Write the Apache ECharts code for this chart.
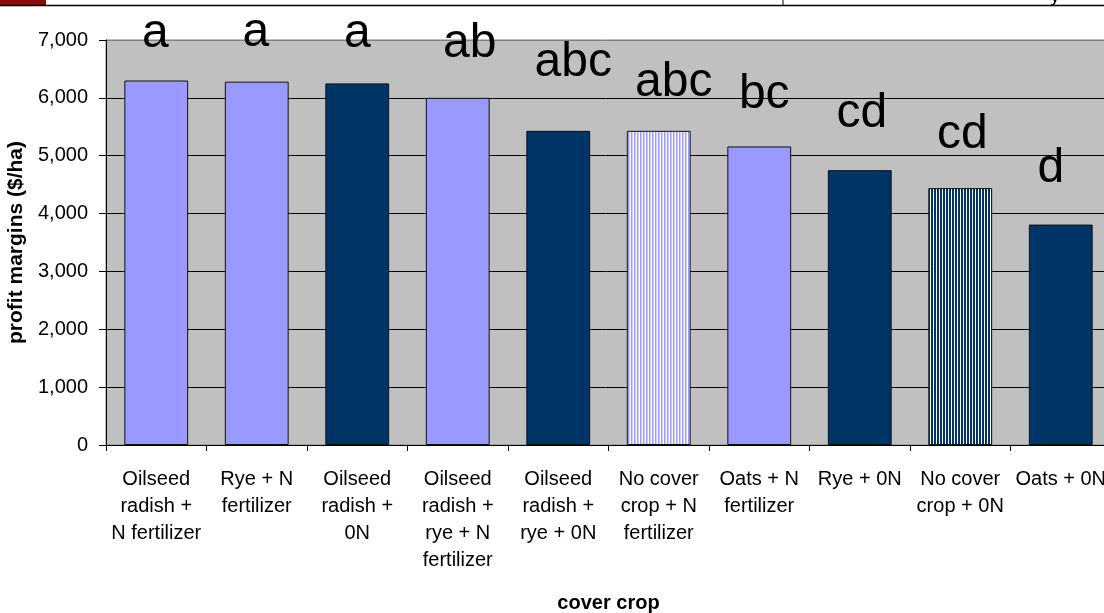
<!DOCTYPE html>
<html>
<head>
<meta charset="utf-8">
<script src="https://cdn.jsdelivr.net/npm/echarts@6/dist/echarts.min.js"></script>
<style>
html,body{margin:0;padding:0;background:#fff;}
#c{width:1104px;height:613px;}
</style>
</head>
<body>
<div id="c"></div>
<script>
// ---- data ----
const categories = [
  'Oilseed\nradish +\nN fertilizer',
  'Rye + N\nfertilizer',
  'Oilseed\nradish +\n0N',
  'Oilseed\nradish +\nrye + N\nfertilizer',
  'Oilseed\nradish +\nrye + 0N',
  'No cover\ncrop + N\nfertilizer',
  'Oats + N\nfertilizer',
  'Rye + 0N',
  'No cover\ncrop + 0N',
  'Oats + 0N'
];
const profitValues = [6300, 6280, 6250, 6000, 5430, 5430, 5160, 4750, 4440, 3810];
const groupLetters = ['a', 'a', 'a', 'ab', 'abc', 'abc', 'bc', 'cd', 'cd', 'd'];
const yMin = 0, yMax = 7000, yStep = 1000;

// ---- styles ----
const LIGHT = '#9999FF', DARK = '#003366';
function stripe(color, colored) {
  const cv = document.createElement('canvas');
  cv.width = 3; cv.height = 4;
  const g = cv.getContext('2d');
  g.fillStyle = '#ffffff'; g.fillRect(0, 0, 3, 4);
  g.fillStyle = color; g.fillRect(1, 0, colored, 4);
  return { image: cv, repeat: 'repeat' };
}
const fillStyles = [LIGHT, LIGHT, DARK, LIGHT, DARK, stripe(LIGHT, 1.5), LIGHT, DARK, stripe(DARK, 2), DARK];
const labelOffsets = [[-1,-23],[-1,-25],[0,-26],[12,-30],[15,-44],[15,-24],[5,-28],[2,-32],[2,-29],[-10,-32]];

const chart = echarts.init(document.getElementById('c'));
const FONT = '"Liberation Sans", Arial, sans-serif';

chart.setOption({
  backgroundColor: '#ffffff',
  animation: false,
  grid: {
    left: 106, top: 40, width: 1005, height: 405,
    containLabel: false,
    outerBoundsMode: 'none',
    show: true, backgroundColor: '#C0C0C0', borderColor: '#808080', borderWidth: 1
  },
  xAxis: {
    type: 'category',
    data: categories,
    name: 'cover crop',
    nameLocation: 'middle',
    nameGap: 148,
    nameTextStyle: { fontFamily: FONT, fontSize: 20, fontWeight: 'bold', color: '#000' },
    axisLine: { lineStyle: { color: '#000', width: 1 } },
    axisTick: { show: true, length: 6, alignWithLabel: false, lineStyle: { color: '#000' } },
    axisLabel: {
      interval: 0, hideOverlap: false, margin: 21,
      fontFamily: FONT, fontSize: 20, lineHeight: 27, color: '#000', align: 'center'
    }
  },
  yAxis: {
    type: 'value',
    min: yMin, max: yMax, interval: yStep,
    name: 'profit margins ($/ha)',
    nameLocation: 'middle',
    nameGap: 79,
    nameTextStyle: { fontFamily: FONT, fontSize: 21, fontWeight: 'bold', color: '#000' },
    axisLine: { show: true, lineStyle: { color: '#000', width: 1 } },
    axisTick: { show: true, length: 7, lineStyle: { color: '#000' } },
    axisLabel: {
      margin: 18, fontFamily: FONT, fontSize: 20, color: '#000',
      formatter: v => v.toLocaleString('en-US')
    },
    splitLine: {
      show: true,
      lineStyle: { color: ['#000','#000','#000','#000','#000','#000','#000','#808080'], width: 1 }
    }
  },
  series: [{
    type: 'bar',
    barWidth: '63.5%',
    data: profitValues.map((v, i) => ({
      value: v,
      itemStyle: { color: fillStyles[i] },
      label: { offset: labelOffsets[i] }
    })),
    itemStyle: { borderColor: '#111111', borderWidth: 1 },
    label: {
      show: true,
      position: 'top',
      distance: 0,
      formatter: p => groupLetters[p.dataIndex],
      fontFamily: FONT,
      fontSize: 48,
      lineHeight: 48,
      color: '#000'
    }
  }],
  graphic: [
    { type: 'rect', shape: { x: 0, y: 0, width: 46, height: 5 }, style: { fill: '#8B0A0A' }, z: 100 },
    { type: 'line', shape: { x1: 0, y1: 5.5, x2: 1104, y2: 5.5 }, style: { stroke: '#000', lineWidth: 1.5 }, z: 100 },
    { type: 'line', shape: { x1: 783, y1: 0, x2: 783, y2: 5 }, style: { stroke: '#000', lineWidth: 1 }, z: 100 },
    { type: 'text', left: 1050, top: -14, style: { text: 'y', font: '20px "Liberation Sans", Arial', fill: '#000' }, z: 100 }
  ]
});
</script>
</body>
</html>
